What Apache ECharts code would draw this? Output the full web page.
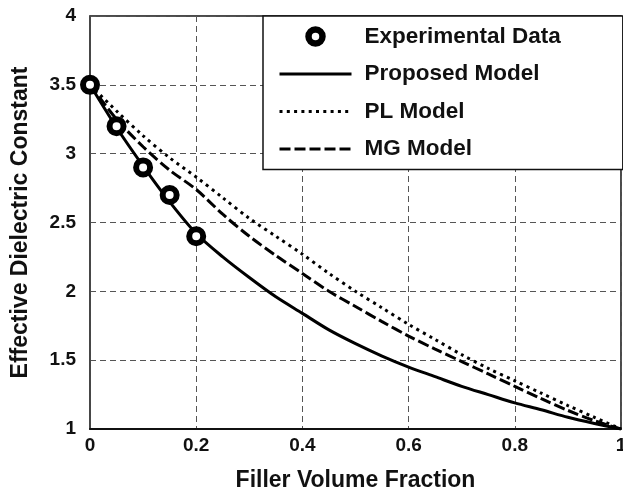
<!DOCTYPE html>
<html>
<head>
<meta charset="utf-8">
<script src="https://cdn.jsdelivr.net/npm/echarts@6/dist/echarts.min.js"></script>
<style>
html,body{margin:0;padding:0;background:#fff;}
#chart{width:623px;height:490px;}
</style>
</head>
<body>
<div id="chart"></div>
<script>
// ---- data ----
const xValues  = [0, 0.05, 0.1, 0.15, 0.2, 0.25, 0.3, 0.35, 0.4, 0.45, 0.5, 0.55, 0.6, 0.65, 0.7, 0.75, 0.8, 0.85, 0.9, 0.95, 1];
const proposedModel = [3.5, 3.19, 2.91, 2.65, 2.42, 2.25, 2.10, 1.96, 1.84, 1.72, 1.62, 1.53, 1.45, 1.38, 1.31, 1.25, 1.19, 1.14, 1.085, 1.04, 1.0];
const plModel  = [3.5, 3.31, 3.13, 2.97, 2.83, 2.68, 2.53, 2.40, 2.27, 2.13, 2.00, 1.88, 1.76, 1.65, 1.54, 1.44, 1.35, 1.26, 1.17, 1.085, 1.0];
const mgModel  = [3.5, 3.25, 3.05, 2.88, 2.74, 2.56, 2.40, 2.26, 2.13, 2.00, 1.89, 1.78, 1.675, 1.58, 1.49, 1.40, 1.31, 1.22, 1.135, 1.06, 1.0];
const expX = [0, 0.05, 0.1, 0.15, 0.2];
const expY = [3.5, 3.2, 2.9, 2.7, 2.4];
const seriesNames = ['Experimental Data', 'Proposed Model', 'PL Model', 'MG Model'];
const xAxisTitle = 'Filler Volume Fraction';
const yAxisTitle = 'Effective Dielectric Constant';

const pairs = (xs, ys) => xs.map((x, i) => [x, ys[i]]);
const FONT = '"Liberation Sans", Arial, Helvetica, sans-serif';

const chart = echarts.init(document.getElementById('chart'));
const gridLine = { show: true, lineStyle: { color: '#555', width: 1, type: [6, 4] } };
const hiddenSymbol = { color: 'transparent', borderWidth: 0, opacity: 0 };
const solidStyle  = { color: '#000', width: 3, type: 'solid' };
const dottedStyle = { color: '#000', width: 3, type: [3, 4.3] };
const dashedStyle = { color: '#000', width: 3, type: [11, 4] };

chart.setOption({
  animation: false,
  backgroundColor: '#fff',
  grid: { left: 90, right: 2, top: 16, bottom: 61, show: true, borderColor: '#111', borderWidth: 1.5, backgroundColor: 'transparent', containLabel: false, outerBoundsMode: 'none' },
  xAxis: {
    type: 'value', min: 0, max: 1, interval: 0.2,
    name: xAxisTitle, nameLocation: 'middle', nameGap: 40,
    nameTextStyle: { fontFamily: FONT, fontWeight: 'bold', fontSize: 23, color: '#111' },
    axisLine: { show: true, lineStyle: { color: '#111', width: 2 } },
    axisTick: { show: false },
    axisLabel: { fontFamily: FONT, fontWeight: 'bold', fontSize: 19, color: '#111', margin: 7 },
    splitLine: gridLine
  },
  yAxis: {
    type: 'value', min: 1, max: 4, interval: 0.5,
    name: yAxisTitle, nameLocation: 'middle', nameGap: 58, nameRotate: 90,
    nameTextStyle: { fontFamily: FONT, fontWeight: 'bold', fontSize: 23, color: '#111' },
    axisLine: { show: true, lineStyle: { color: '#444', width: 1.5 } },
    axisTick: { show: false },
    axisLabel: { fontFamily: FONT, fontWeight: 'bold', fontSize: 19, color: '#111', margin: 14 },
    splitLine: gridLine
  },
  legend: {
    orient: 'vertical', left: 263, top: 16,
    backgroundColor: '#fff', borderColor: '#111', borderWidth: 1.5, borderRadius: 0,
    padding: [9, 62, 9, 15],
    itemWidth: 72, itemHeight: 14, itemGap: 14.5,
    textStyle: { fontFamily: FONT, fontWeight: 'bold', fontSize: 22.5, color: '#111', lineHeight: 22, padding: [0, 0, 0, 8] },
    data: [
      { name: seriesNames[0], icon: 'circle', itemStyle: { color: '#fff', borderColor: '#000', borderWidth: 6.5 } },
      { name: seriesNames[1], itemStyle: hiddenSymbol, lineStyle: solidStyle },
      { name: seriesNames[2], itemStyle: hiddenSymbol, lineStyle: dottedStyle },
      { name: seriesNames[3], itemStyle: hiddenSymbol, lineStyle: dashedStyle }
    ]
  },
  series: [
    {
      name: seriesNames[1], type: 'line', data: pairs(xValues, proposedModel),
      showSymbol: false, symbol: 'none', smooth: 0.3,
      lineStyle: solidStyle, itemStyle: { color: '#000' }, z: 3
    },
    {
      name: seriesNames[2], type: 'line', data: pairs(xValues, plModel),
      showSymbol: false, symbol: 'none', smooth: 0.3,
      lineStyle: dottedStyle, itemStyle: { color: '#000' }, z: 3
    },
    {
      name: seriesNames[3], type: 'line', data: pairs(xValues, mgModel),
      showSymbol: false, symbol: 'none', smooth: 0.3,
      lineStyle: dashedStyle, itemStyle: { color: '#000' }, z: 3
    },
    {
      name: seriesNames[0], type: 'scatter', data: pairs(expX, expY),
      symbol: 'circle', symbolSize: 14,
      itemStyle: { color: '#fff', borderColor: '#000', borderWidth: 6, opacity: 1 }, z: 5
    }
  ]
});
</script>
</body>
</html>
